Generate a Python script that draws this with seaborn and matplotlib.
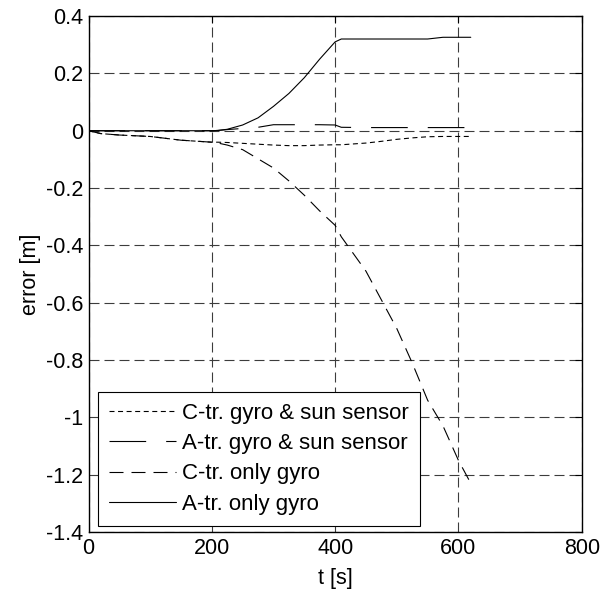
import matplotlib
matplotlib.use("Agg")
import matplotlib.pyplot as plt
import seaborn as sns
import pandas as pd

# time axis [s] and errors [m]
t = [0, 20, 50, 100, 150, 200, 210, 225, 250, 275, 300, 325, 350, 375,
     400, 410, 450, 475, 500, 525, 550, 575, 600, 620]

ctr_gyro_sun = [0, -0.01, -0.015, -0.02, -0.033, -0.04, -0.04, -0.041, -0.044,
                -0.047, -0.05, -0.052, -0.052, -0.05, -0.049, -0.049, -0.043,
                -0.037, -0.03, -0.025, -0.021, -0.02, -0.02, -0.02]
atr_gyro_sun = [0, 0, 0, 0, 0, 0, 0.001, 0.004, 0.008, 0.012, 0.021, 0.021,
                0.021, 0.021, 0.02, 0.012, 0.011, 0.011, 0.011, 0.011, 0.011,
                0.011, 0.011, 0.011]
ctr_only_gyro = [0, -0.01, -0.015, -0.02, -0.033, -0.04, -0.043, -0.05, -0.066,
                 -0.098, -0.13, -0.175, -0.225, -0.28, -0.33, -0.37, -0.49,
                 -0.59, -0.69, -0.81, -0.94, -1.03, -1.15, -1.23]
atr_only_gyro = [0, 0, 0, 0, 0, 0, 0.001, 0.005, 0.02, 0.045, 0.085, 0.13,
                 0.185, 0.25, 0.31, 0.32, 0.32, 0.32, 0.32, 0.32, 0.32, 0.326,
                 0.326, 0.326]

labels = ["C-tr. gyro & sun sensor", "A-tr. gyro & sun sensor",
          "C-tr. only gyro", "A-tr. only gyro"]
xticks = [0, 200, 400, 600, 800]
yticks = [-1.4, -1.2, -1, -0.8, -0.6, -0.4, -0.2, 0, 0.2, 0.4]
ytick_labels = ["-1.4", "-1.2", "-1", "-0.8", "-0.6", "-0.4", "-0.2", "0", "0.2", "0.4"]

df = pd.concat([
    pd.DataFrame({"t": t, "error": vals, "series": name})
    for name, vals in zip(labels, [ctr_gyro_sun, atr_gyro_sun, ctr_only_gyro, atr_only_gyro])
])

sns.set_style("white")
plt.rcParams["font.family"] = ["Liberation Sans", "DejaVu Sans"]
plt.rcParams["text.color"] = "black"
plt.rcParams["axes.labelcolor"] = "black"
fs = 16

fig = plt.figure(figsize=(6.13, 5.91), dpi=100)
ax = fig.add_axes([0.1444, 0.0998, 0.8046, 0.873])

# grid first so the curves sit on top (MATLAB look)
ax.set_axisbelow(True)
ax.grid(True, color="#3c3c3c", linestyle=(0, (9, 4.5)), linewidth=0.8)

sns.lineplot(data=df, x="t", y="error", hue="series", style="series",
             hue_order=labels, style_order=labels,
             palette=["black"] * 4,
             dashes={labels[0]: (4.5, 3.2), labels[1]: (33, 18),
                     labels[2]: (12.6, 7.2), labels[3]: ""},
             estimator=None, sort=False, linewidth=0.8, ax=ax, legend=True)

ax.set_xlim(0, 800)
ax.set_ylim(-1.4, 0.4)
ax.set_xticks(xticks)
ax.set_xticklabels([str(v) for v in xticks])
ax.set_yticks(yticks)
ax.set_yticklabels(ytick_labels)
ax.tick_params(direction="in", top=True, right=True, length=5, width=0.8,
               labelsize=15.5, pad=4, colors="black")
for s in ax.spines.values():
    s.set_visible(True)
    s.set_color("black")
    s.set_linewidth(1.0)

ax.set_xlabel("t [s]", fontsize=15.5, labelpad=7, color="black")
ax.set_ylabel("error [m]", fontsize=15.5, labelpad=3, color="black")

handles, _ = ax.get_legend_handles_labels()
leg = ax.legend(handles[-4:], labels, loc="lower left",
                bbox_to_anchor=(0.019, 0.012), borderaxespad=0,
                fontsize=fs, handlelength=3.0, handletextpad=0.3,
                borderpad=0.5, labelspacing=0.42, fancybox=False,
                framealpha=1, edgecolor="black")
leg.get_frame().set_linewidth(0.8)
for txt in leg.get_texts():
    txt.set_color("black")

plt.savefig("out.png", dpi=100)
plt.close()
